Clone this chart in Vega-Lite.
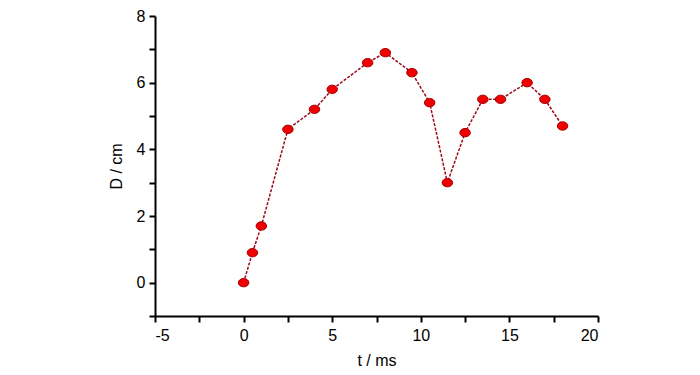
{
  "$schema": "https://vega.github.io/schema/vega-lite/v6.json",
  "width": 443,
  "height": 300,
  "autosize": {"type": "none"},
  "padding": {"left": 155, "top": 16, "right": 102, "bottom": 59},
  "background": "white",
  "config": {"view": {"stroke": null}},
  "data": {"values": [
    {"t": 0, "D": 0}, {"t": 0.5, "D": 0.9}, {"t": 1, "D": 1.7}, {"t": 2.5, "D": 4.6},
    {"t": 4, "D": 5.2}, {"t": 5, "D": 5.8}, {"t": 7, "D": 6.6}, {"t": 8, "D": 6.9},
    {"t": 9.5, "D": 6.3}, {"t": 10.5, "D": 5.4}, {"t": 11.5, "D": 3.0}, {"t": 12.5, "D": 4.5},
    {"t": 13.5, "D": 5.5}, {"t": 14.5, "D": 5.5}, {"t": 16, "D": 6.0}, {"t": 17, "D": 5.5},
    {"t": 18, "D": 4.7}
  ]},
  "encoding": {
    "x": {"field": "t", "type": "quantitative",
      "scale": {"domain": [-5, 20], "nice": false, "zero": false},
      "axis": {"title": "t / ms", "values": [-5, -2.5, 0, 2.5, 5, 7.5, 10, 12.5, 15, 17.5, 20],
        "labelExpr": "datum.value % 5 == 0 ? '' + datum.value : ''",
        "ticks": true, "tickSize": 6,
        "grid": false, "domainColor": "black", "tickColor": "black", "domainWidth": 2, "tickWidth": 2,
        "labelFont": "Liberation Sans", "labelFontSize": 16, "labelColor": "black", "labelPadding": 5,
        "titleFont": "Liberation Sans", "titleFontSize": 16, "titleFontWeight": "normal", "titleColor": "black", "titlePadding": 9}},
    "y": {"field": "D", "type": "quantitative",
      "scale": {"domain": [-1, 8], "nice": false, "zero": false},
      "axis": {"title": "D / cm", "values": [-1, 0, 1, 2, 3, 4, 5, 6, 7, 8],
        "labelExpr": "datum.value % 2 == 0 ? '' + datum.value : ''",
        "ticks": true, "tickSize": 6,
        "grid": false, "domainColor": "black", "tickColor": "black", "domainWidth": 2, "tickWidth": 2,
        "labelFont": "Liberation Sans", "labelFontSize": 16, "labelColor": "black", "labelPadding": 4,
        "titleFont": "Liberation Sans", "titleFontSize": 16, "titleFontWeight": "normal", "titleColor": "black", "titlePadding": 12}}
  },
  "layer": [
    {"mark": {"type": "line", "color": "#9b0a1e", "strokeWidth": 1.5, "strokeDash": [3, 1.5]}},
    {"mark": {"type": "point", "filled": true, "shape": "M-1,0 A1,0.8 0 1,0 1,0 A1,0.8 0 1,0 -1,0 Z", "size": 110, "fill": "#f00000", "stroke": "#a00000", "strokeWidth": 1, "opacity": 1}}
  ]
}
